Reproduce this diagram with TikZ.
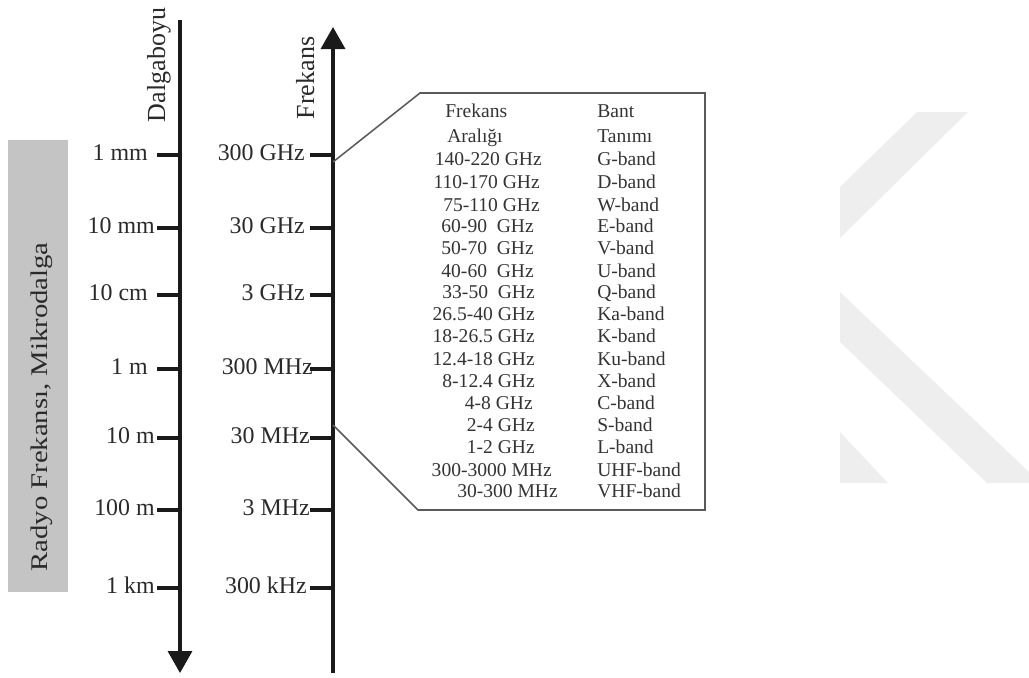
\documentclass[tikz,border=0pt]{standalone}
\usepackage{fontspec}
\setmainfont{Liberation Serif}
\usepackage{xcolor}
\usetikzlibrary{positioning,arrows.meta}
\definecolor{axiscol}{HTML}{1A1A1A}
\definecolor{textcol}{HTML}{2A2A2A}
\definecolor{tablecol}{HTML}{333333}
\definecolor{boxcol}{HTML}{5A5A5A}
\definecolor{bandfill}{HTML}{C4C4C4}
\definecolor{markcol}{HTML}{EEEEEE}

\begin{document}
\begin{tikzpicture}[x=0.025cm,y=-0.025cm,
    axis/.style={line width=2.4pt, draw=axiscol},
    tip/.style={-{Triangle[length=0.55cm,width=0.6cm]}},
    tick/.style={line width=2.4pt, draw=axiscol},
    scalelbl/.style={font=\fontsize{17}{20}\selectfont, text=textcol, inner sep=0pt, anchor=east, text height=1.6ex, text depth=0pt},
    title/.style={font=\fontsize{18.5}{22}\selectfont, text=textcol, inner sep=0pt, anchor=base, rotate=90},
    cell/.style={font=\fontsize{13.9}{16}\selectfont, text=tablecol, inner sep=0pt, text height=1.6ex, text depth=0pt}]
  \useasboundingbox (0,0) rectangle (1029,677);

  % faint watermark
  \fill[markcol] (840,187) -- (917,112) -- (968,112) -- (840,238) -- cycle;
  \fill[markcol] (840,292) -- (1029,472) -- (1029,483) -- (987,483) -- (840,342) -- cycle;
  \fill[markcol] (840,432) -- (840,483) -- (888,483) -- cycle;

  % grey band
  \fill[bandfill] (8,140) rectangle (68,592);
  \node[title, font=\fontsize{17}{20}\selectfont] (band) at (47,407) {\scalebox{1.2}[1]{Radyo Frekansı, Mikrodalga}};

  % axes
  \coordinate (dtop) at (180,20);
  \coordinate (dbot) at (180,673);
  \coordinate (fbot) at (333,673);
  \coordinate (ftop) at (333,27);
  \draw[axis, tip] (dtop) -- (dbot);
  \draw[axis, tip] (fbot) -- (ftop);
  \node[title] (dalga) at (165,65) {Dalgaboyu};
  \node[title] (freq) at (314,78) {Frekans};

  % wavelength ticks
  \foreach \y/\lab/\xr in {155/1 mm/148, 228/10 mm/155, 295/10 cm/148, 369/1 m/148,
                           438/10 m/155, 510/100 m/155, 588/1 km/155} {
    \draw[tick] (157,\y) -- (180,\y);
    \node[scalelbl] at (\xr,\y) {\lab};
  }

  % frequency ticks
  \foreach \y/\lab/\xr in {155/300 GHz/305, 228/30 GHz/305, 295/3 GHz/305, 369/300 MHz/313,
                           438/30 MHz/310, 510/3 MHz/310, 588/300 kHz/307} {
    \draw[tick] (310,\y) -- (333,\y);
    \node[scalelbl] at (\xr,\y) {\lab};
  }

  % band table
  \coordinate (f1) at (333,162);
  \coordinate (f2) at (333,425);
  \coordinate (tl) at (420,93);
  \coordinate (tr) at (705,93);
  \coordinate (br) at (705,510);
  \coordinate (bl) at (418,510);
  \draw[boxcol, line width=1.1pt] (f1) -- (tl) -- (tr) -- (br) -- (bl) -- (f2);

  \node[cell, anchor=west] (hf1) at (445,112) {Frekans};
  \node[cell, anchor=west] (hf2) at (447,137) {Aralığı};
  \node[cell, anchor=west] (hb1) at (597,112) {Bant};
  \node[cell, anchor=west] (hb2) at (597,137) {Tanımı};

  \foreach \y/\rng/\xr/\bnd in {160/140-220 GHz/542/G-band, 183/110-170 GHz/540/D-band,
      206/75-110 GHz/540/W-band, 227/60-90~~GHz/534/E-band, 249/50-70~~GHz/534/V-band,
      272/40-60~~GHz/534/U-band, 293/33-50~~GHz/535/Q-band, 315/26.5-40 GHz/535/Ka-band,
      337/18-26.5 GHz/535/K-band, 360/12.4-18 GHz/535/Ku-band, 382/8-12.4 GHz/535/X-band,
      404/4-8 GHz/533/C-band, 426/2-4 GHz/535/S-band, 448/1-2 GHz/535/L-band,
      471/300-3000 MHz/552/UHF-band, 492/30-300 MHz/558/VHF-band} {
    \node[cell, anchor=east] at (\xr,\y) {\rng};
    \node[cell, anchor=west] at (597,\y) {\bnd};
  }
\end{tikzpicture}
\end{document}
